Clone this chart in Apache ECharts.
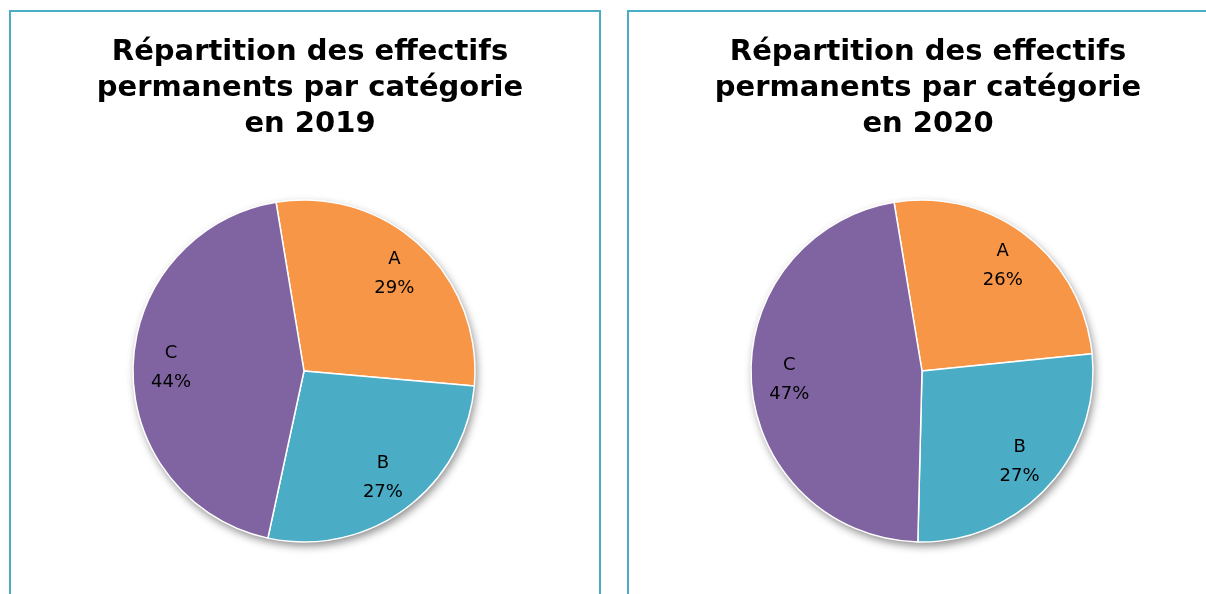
<!DOCTYPE html>
<html>
<head>
<meta charset="utf-8">
<script src="https://cdn.jsdelivr.net/npm/echarts@6/dist/echarts.min.js"></script>
<style>
  html, body { margin: 0; padding: 0; background: #fff; }
  #chart { width: 1206px; height: 594px; }
</style>
</head>
<body>
<div id="chart"></div>
<script>
// catégories et parts (%)
var categories = ['A', 'B', 'C'];
var values2019 = [29, 27, 44];
var values2020 = [26, 27, 47];
var years = ['2019', '2020'];
var colors = ['#F79646', '#4BACC6', '#8064A2'];

var myChart = echarts.init(document.getElementById('chart'));

var panels = [
  { x: 10, cx: 305, pie: [304, 371], values: values2019 },
  { x: 628, cx: 923, pie: [922, 371], values: values2020 }
];
var R = 171;

function makeData(vals, withColor) {
  return categories.map(function (c, i) {
    var d = { name: c, value: vals[i] };
    if (withColor) d.itemStyle = { color: colors[i] };
    return d;
  });
}

var series = [];
var titles = [];
var graphics = [];

panels.forEach(function (p, k) {
  // cadre du panneau
  graphics.push({
    type: 'polyline',
    silent: true,
    shape: { points: [[p.x, 700], [p.x, 11], [p.x + 590, 11], [p.x + 590, 700]] },
    style: { stroke: '#4BACC6', lineWidth: 2, fill: null }
  });

  titles.push({
    text: 'Répartition des effectifs\npermanents par catégorie\nen ' + years[k],
    left: p.cx,
    top: 29,
    textAlign: 'center',
    textStyle: {
      fontFamily: 'DejaVu Sans',
      fontWeight: 'bold',
      fontSize: 29,
      lineHeight: 36,
      color: '#000'
    }
  });

  // ombre sous le camembert
  series.push({
    type: 'pie',
    silent: true,
    center: p.pie,
    radius: R,
    startAngle: 99.4,
    z: 1,
    label: { show: false },
    labelLine: { show: false },
    itemStyle: {
      color: '#fff',
      shadowBlur: 8,
      shadowColor: 'rgba(0,0,0,0.45)',
      shadowOffsetX: 2,
      shadowOffsetY: 4
    },
    data: [{ name: 'bg', value: 1 }]
  });

  series.push({
    type: 'pie',
    center: p.pie,
    radius: R,
    startAngle: 99.4,
    clockwise: true,
    z: 2,
    label: { show: false },
    labelLine: { show: false },
    emphasis: { scale: false },
    itemStyle: { borderColor: '#fff', borderWidth: 1.5 },
    data: makeData(p.values, true)
  });

  // étiquettes (série transparente pour placer le texte vers 0.76 R)
  series.push({
    type: 'pie',
    silent: true,
    center: p.pie,
    radius: [R * 0.52, R],
    startAngle: 99.4,
    z: 3,
    labelLine: { show: false },
    itemStyle: { color: 'transparent', borderWidth: 0 },
    emphasis: { disabled: true },
    label: {
      show: true,
      position: 'inside',
      formatter: function (params) {
        return params.name + '\n' + Math.round(params.percent) + '%';
      },
      fontFamily: 'DejaVu Sans',
      fontSize: 18,
      lineHeight: 29,
      color: '#000'
    },
    data: makeData(p.values, false)
  });
});

var option = {
  animation: false,
  title: titles,
  graphic: graphics,
  series: series
};
myChart.setOption(option);
</script>
</body>
</html>
